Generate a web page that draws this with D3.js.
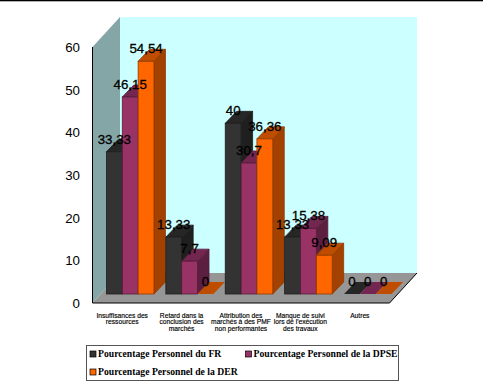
<!DOCTYPE html>
<html>
<head>
<meta charset='utf-8' />
<title>Pourcentage Personnel</title>
<script src="https://d3js.org/d3.v7.min.js"></script>
<style>
body { margin:0; padding:0; background:#fff; }
svg { display:block; }
</style>
</head>
<body>
<div id="chart"></div>
<script>
var categories = [
  ["Insuffisances des", "ressources"],
  ["Retard dans la", "conclusion des", "marchés"],
  ["Attribution des", "marchés à des PMF", "non performantes"],
  ["Manque de suivi", "lors de l'exécution", "des travaux"],
  ["Autres"]
];
var seriesNames = ["Pourcentage Personnel du FR", "Pourcentage Personnel de la DPSE", "Pourcentage Personnel de la DER"];
var serieFR = [33.33, 13.33, 40, 13.33, 0];
var serieDPSE = [46.15, 7.7, 30.7, 15.38, 0];
var serieDER = [54.54, 0, 36.36, 9.09, 0];
var yTicks = [0, 10, 20, 30, 40, 50, 60];

// front face, top face, side face
var colors = [
  ["#333333", "#262626", "#1f1f1f"],
  ["#993366", "#732650", "#5c1f40"],
  ["#ff6600", "#bf4d00", "#a34100"]
];

var width = 483, height = 385;
var svg = d3.select("#chart").append("svg").attr("width", width).attr("height", height);

// top rule of the page
svg.append("rect").attr("x", 0).attr("y", 0).attr("width", width).attr("height", 1.3).attr("fill", "#000");

var x0 = d3.scaleBand().domain(d3.range(categories.length)).range([92.5, 389.5]).paddingInner(0.2).paddingOuter(0.1);
var x1 = d3.scaleBand().domain([0, 1, 2]).range([0, x0.bandwidth()]);
var y = d3.scaleLinear().domain([0, 60]).range([303, 47]);

// wall depth, and the bar's offset and depth inside it
var wallDx = 27.5, wallDy = -30;
var barX = 8, barY = -9, barDx = 11.5, barDy = -12;

function poly(points, fill) {
  return svg.append("polygon").attr("points", points.map(function (p) { return p.join(","); }).join(" ")).attr("fill", fill);
}

var xl = x0.range()[0], xr = x0.range()[1], y0 = y(0), yt = y(60);

// back wall, left wall, floor
poly([[xl + wallDx, yt + wallDy], [xr + wallDx, yt + wallDy], [xr + wallDx, y0 + wallDy], [xl + wallDx, y0 + wallDy]], "#ccffff");
poly([[xl, y0], [xl, yt], [xl + wallDx, yt + wallDy], [xl + wallDx, y0 + wallDy]], "#85a6a6");
poly([[xl, y0], [xr, y0], [xr + wallDx, y0 + wallDy], [xl + wallDx, y0 + wallDy]], "#969696");

svg.append("path").attr("d", "M" + xl + "," + yt + "V" + y0 + "H" + xr + "L" + (xr + wallDx) + "," + (y0 + wallDy))
  .attr("fill", "none").attr("stroke", "#000").attr("stroke-width", 1);

// y axis labels
svg.append("g").selectAll("text").data(yTicks).join("text")
  .attr("x", 80).attr("y", function (d) { return y(d) + 5; })
  .attr("text-anchor", "end")
  .attr("font-family", "Liberation Sans").attr("font-size", 13.3).attr("fill", "#000")
  .text(function (d) { return d; });

var allSeries = [serieFR, serieDPSE, serieDER];

// bars, left to right
categories.forEach(function (c, i) {
  allSeries.forEach(function (values, s) {
    var v = values[i];
    var xa = x0(i) + x1(s) + barX, xb = xa + x1.bandwidth();
    var base = y0 + barY, top = y(v) + barY;
    var col = colors[s];
    var line = v > 0 ? d3.color(col[0]).darker(1.6) : "none";
    if (v > 0) {
      poly([[xb, base], [xb, top], [xb + barDx, top + barDy], [xb + barDx, base + barDy]], col[2]).attr("stroke", line).attr("stroke-width", 0.8);
    }
    poly([[xa, top], [xb, top], [xb + barDx, top + barDy], [xa + barDx, top + barDy]], col[1]).attr("stroke", line).attr("stroke-width", 0.8);
    if (v > 0) {
      svg.append("rect").attr("x", xa).attr("y", top).attr("width", xb - xa).attr("height", base - top)
        .attr("fill", col[0]).attr("stroke", line).attr("stroke-width", 0.8);
    }
  });
});

// value labels sit over the bars
var fmt = function (v) { return String(v).replace(".", ","); };
categories.forEach(function (c, i) {
  allSeries.forEach(function (values, s) {
    svg.append("text")
      .attr("x", x0(i) + x1(s) + barX + x1.bandwidth() / 2)
      .attr("y", y(values[i]) + barY - 8)
      .attr("text-anchor", "middle")
      .attr("font-family", "Liberation Sans").attr("font-size", 13.3)
      .attr("fill", "#000").attr("stroke", "#000").attr("stroke-width", 0.3)
      .text(fmt(values[i]));
  });
});

// category labels
categories.forEach(function (lines, i) {
  var t = svg.append("text").attr("text-anchor", "middle")
    .attr("font-family", "Liberation Sans").attr("font-size", 6.7)
    .attr("fill", "#000").attr("stroke", "#000").attr("stroke-width", 0.15);
  lines.forEach(function (l, k) {
    t.append("tspan").attr("x", x0(i) + x0.bandwidth() / 2).attr("y", 317.5 + k * 6.8).text(l);
  });
});

// legend
svg.append("rect").attr("x", 86.5).attr("y", 345.5).attr("width", 312).attr("height", 35)
  .attr("fill", "#fff").attr("stroke", "#555").attr("stroke-width", 1);
var legendPos = [[90, 351], [245.5, 351], [90, 369]];
seriesNames.forEach(function (name, s) {
  svg.append("rect").attr("x", legendPos[s][0]).attr("y", legendPos[s][1]).attr("width", 6).attr("height", 6)
    .attr("fill", colors[s][0]).attr("stroke", "#000").attr("stroke-width", 0.7);
  svg.append("text").attr("x", legendPos[s][0] + 8).attr("y", legendPos[s][1] + 5.5)
    .attr("font-family", "Liberation Serif").attr("font-size", 9.7).attr("font-weight", "bold")
    .attr("fill", "#000").text(name);
});
</script>
</body>
</html>
